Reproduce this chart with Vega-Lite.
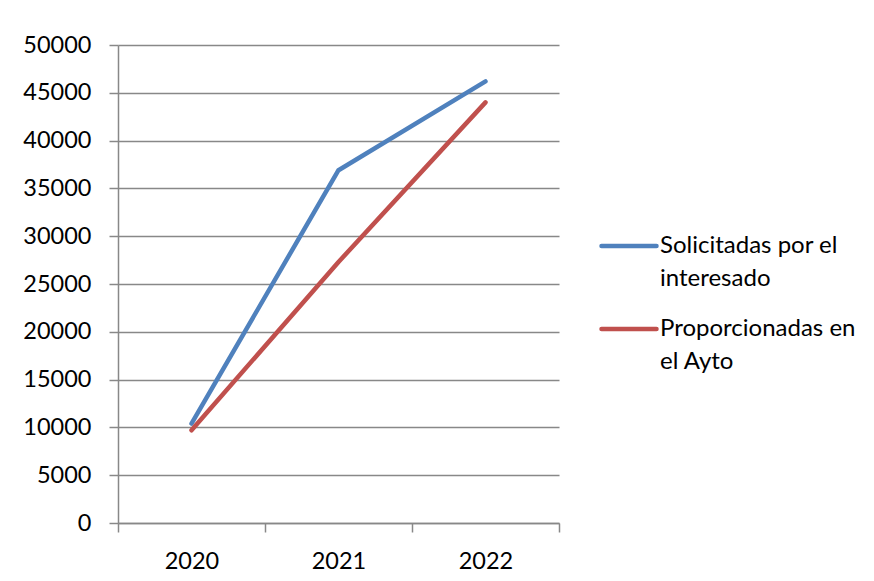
{
  "$schema": "https://vega.github.io/schema/vega-lite/v6.json",
  "width": 441,
  "height": 478,
  "autosize": {"type": "none"},
  "padding": {"left": 118, "top": 45, "right": 315, "bottom": 58},
  "background": "white",
  "data": {
    "values": [
      {"year": "2020", "series": "Solicitadas por el interesado", "value": 10400},
      {"year": "2021", "series": "Solicitadas por el interesado", "value": 36900},
      {"year": "2022", "series": "Solicitadas por el interesado", "value": 46200},
      {"year": "2020", "series": "Proporcionadas en el Ayto", "value": 9700},
      {"year": "2021", "series": "Proporcionadas en el Ayto", "value": 27300},
      {"year": "2022", "series": "Proporcionadas en el Ayto", "value": 44000}
    ]
  },
  "mark": {"type": "line", "strokeWidth": 4.5, "strokeCap": "round", "strokeJoin": "round"},
  "encoding": {
    "x": {
      "field": "year",
      "type": "ordinal",
      "scale": {"paddingInner": 0, "paddingOuter": 0},
      "axis": {
        "title": null,
        "labelAngle": 0,
        "tickBand": "extent",
        "tickSize": 9,
        "labelPadding": 17,
        "grid": false
      }
    },
    "y": {
      "field": "value",
      "type": "quantitative",
      "scale": {"domain": [0, 50000], "nice": false},
      "axis": {
        "title": null,
        "values": [0, 5000, 10000, 15000, 20000, 25000, 30000, 35000, 40000, 45000, 50000],
        "format": "d",
        "tickSize": 9,
        "labelPadding": 18,
        "grid": true
      }
    },
    "color": {
      "field": "series",
      "type": "nominal",
      "sort": ["Solicitadas por el interesado", "Proporcionadas en el Ayto"],
      "scale": {
        "domain": ["Solicitadas por el interesado", "Proporcionadas en el Ayto"],
        "range": ["#4F81BD", "#C0504D"]
      },
      "legend": {
        "title": null,
        "orient": "none",
        "legendX": 481,
        "legendY": 171,
        "symbolType": "stroke",
        "symbolSize": 3025,
        "symbolStrokeWidth": 4.5,
        "labelOffset": 1,
        "labelLimit": 300,
        "labelBaseline": "middle",
        "rowPadding": 8,
        "labelExpr": "datum.label == 'Solicitadas por el interesado' ? ['Solicitadas por el', 'interesado'] : ['Proporcionadas en', 'el Ayto']",
        "encode": {
          "labels": {"update": {"lineHeight": {"value": 33}}},
          "symbols": {"update": {"strokeCap": {"value": "round"}}}
        }
      }
    }
  },
  "config": {
    "font": "Lato",
    "view": {"stroke": null},
    "axis": {
      "domainColor": "#888888",
      "domainWidth": 1.5,
      "tickColor": "#888888",
      "tickWidth": 1.5,
      "gridColor": "#888888",
      "gridWidth": 1.5,
      "labelFont": "Lato",
      "labelFontSize": 23.5,
      "labelColor": "#000000"
    },
    "legend": {
      "labelFont": "Lato",
      "labelFontSize": 24,
      "labelColor": "#000000"
    }
  }
}
